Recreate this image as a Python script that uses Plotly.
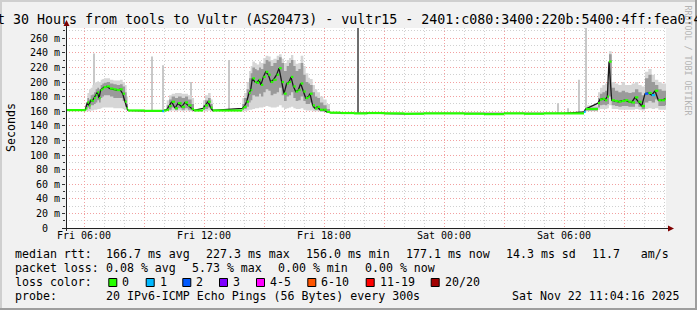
import plotly.graph_objects as go
from datetime import datetime, timedelta

# ---------------- data ----------------
# reading times (Fri = 2025-11-21, Sat = 2025-11-22)
times_fri = [
    "05:06", "06:03",
    "06:05", "06:10", "06:15", "06:20", "06:25", "06:30", "06:35", "06:40", "06:45", "06:50",
    "06:55", "07:00", "07:08", "07:18", "07:28", "07:38", "07:48", "07:56", "08:03", "08:08",
    "08:12", "09:00", "09:55", "10:00",
    "10:08", "10:15", "10:23", "10:33", "10:42", "10:53", "11:03", "11:12", "11:23",
    "11:30",
    "11:57", "12:03", "12:12", "12:20",
    "12:26",
    "13:55", "14:00", "14:08", "14:15", "14:20", "14:25", "14:33", "14:38", "14:45", "14:51",
    "14:58", "15:05", "15:13", "15:20", "15:28", "15:38", "15:45", "15:53", "16:00", "16:08",
    "16:15", "16:21", "16:28", "16:35", "16:43", "16:50", "16:58", "17:05", "17:13", "17:18",
    "17:26", "17:33", "17:40", "17:48", "17:58", "18:08",
    "18:18", "18:50", "19:30", "20:10", "21:00", "22:00", "23:00",
]
times_sat = [
    "00:00", "01:00", "02:00", "03:00", "04:00", "05:00", "06:00",
    "07:00", "07:05",
    "07:42", "07:48", "07:55", "08:03", "08:10", "08:15", "08:23", "08:33", "08:43", "08:53",
    "09:03", "09:13", "09:23", "09:33", "09:43", "09:53", "10:03", "10:13", "10:23", "10:33",
    "10:43", "10:53", "11:03",
]

# median round-trip time, ms
median_ms = [
    161.5, 161.5,
    164, 172, 168, 175, 174, 178, 182, 186, 178, 189,
    191, 193, 194, 191, 190, 189, 190, 184, 173, 164,
    161, 160.5, 160, 161,
    162, 167, 173, 164, 171, 166, 172, 168, 163,
    161,
    164, 168, 173, 165,
    161,
    164, 166, 173, 185, 189, 205, 200, 199, 203, 196,
    207, 214, 210, 200, 203, 210, 219, 200, 184, 198,
    200, 207, 194, 187, 189, 198, 187, 178, 180, 184,
    168, 164, 166, 162, 162, 159,
    158, 157.5, 157, 157.5, 157, 156.5, 157,
    157, 156.5, 156, 157, 156.5, 157, 157,
    159, 163,
    171, 176, 177, 175, 180, 228, 175, 174, 173, 174,
    175, 173, 172, 179, 173, 167, 184, 185, 182, 188,
    175, 175, 177,
]

# lost pings (out of 20) per reading
loss_pings = [
    0, 0,
    0, 0, 0, 0, 0, 0, 0, 0, 0, 0,
    0, 0, 0, 0, 0, 0, 0, 0, 0, 0,
    0, 0, 1, 0,
    0, 0, 0, 0, 0, 0, 0, 0, 0,
    0,
    0, 0, 0, 0,
    0,
    0, 0, 0, 0, 0, 0, 0, 0, 0, 0,
    0, 0, 0, 0, 0, 0, 0, 0, 0, 0,
    0, 0, 0, 0, 0, 0, 0, 0, 0, 0,
    0, 0, 0, 0, 0, 0,
    0, 0, 0, 0, 0, 0, 0,
    0, 0, 0, 0, 0, 0, 0,
    1, 0,
    0, 0, 0, 0, 0, 0, 0, 0, 0, 0,
    0, 0, 0, 0, 0, 0, 2, 0, 1, 0,
    0, 0, 0,
]

# smoke (spread of the 20 pings), ms; None = no visible smoke
smoke_min = [
    None, None,
    160, 160, 160, 161, 161, 162, 162, 163, 163, 164,
    165, 165, 165, 165, 164, 164, 164, 163, 162, 161,
    None, None, None, None,
    160, 160, 161, 160, 161, 160, 161, 160, 160,
    None,
    160, 160, 161, 160,
    None,
    160, 160, 161, 162, 162, 163, 164, 164, 165, 165,
    166, 167, 166, 165, 165, 166, 168, 165, 163, 164,
    165, 166, 164, 163, 163, 164, 162, 161, 161, 161,
    160, 160, 160, 159, 159, 158,
    None, None, None, None, None, None, None,
    None, None, None, None, None, None, None,
    None, 160,
    162, 163, 163, 163, 164, 168, 163, 163, 162, 162,
    162, 162, 162, 163, 162, 161, 163, 164, 163, 164,
    162, 162, 162,
]
smoke_lo = [
    None, None,
    162, 165, 163, 168, 168, 170, 172, 175, 172, 178,
    180, 182, 182, 180, 178, 178, 178, 174, 166, 162,
    None, None, None, None,
    161, 162, 165, 162, 164, 162, 164, 162, 161,
    None,
    162, 163, 165, 162,
    None,
    162, 163, 166, 172, 175, 182, 180, 180, 184, 180,
    186, 190, 188, 182, 184, 186, 192, 182, 174, 180,
    182, 186, 178, 174, 175, 180, 174, 170, 170, 172,
    164, 162, 162, 160, 160, 158,
    None, None, None, None, None, None, None,
    None, None, None, None, None, None, None,
    None, 161,
    165, 168, 169, 168, 170, 180, 168, 167, 166, 167,
    167, 166, 166, 170, 166, 163, 172, 174, 172, 176,
    167, 167, 168,
]
smoke_hi = [
    None, None,
    168, 178, 176, 182, 183, 186, 190, 192, 190, 196,
    198, 199, 200, 198, 197, 196, 197, 194, 186, 170,
    None, None, None, None,
    168, 176, 180, 178, 180, 178, 180, 176, 170,
    None,
    168, 175, 178, 170,
    None,
    170, 178, 190, 205, 212, 220, 218, 216, 220, 218,
    225, 230, 228, 222, 226, 230, 234, 226, 215, 222,
    226, 230, 222, 215, 218, 226, 210, 200, 198, 196,
    186, 180, 178, 172, 168, 163,
    None, None, None, None, None, None, None,
    None, None, None, None, None, None, None,
    None, 165,
    178, 184, 186, 188, 200, 238, 192, 188, 186, 188,
    186, 185, 186, 190, 186, 182, 205, 210, 200, 196,
    190, 188, 188,
]
smoke_max = [
    None, None,
    172, 185, 190, 192, 196, 199, 200, 201, 200, 203,
    204, 205, 205, 203, 202, 202, 203, 200, 196, 180,
    None, None, None, None,
    175, 182, 184, 185, 185, 184, 184, 182, 178,
    None,
    175, 182, 185, 176,
    None,
    178, 185, 200, 215, 222, 228, 226, 224, 228, 226,
    233, 236, 235, 230, 232, 236, 238, 232, 226, 230,
    233, 237, 230, 225, 226, 236, 222, 212, 206, 204,
    196, 190, 186, 180, 176, 170,
    None, None, None, None, None, None, None,
    None, None, None, None, None, None, None,
    None, 168,
    186, 192, 196, 198, 210, 242, 200, 198, 196, 200,
    196, 196, 198, 200, 196, 194, 214, 218, 210, 203,
    200, 198, 198,
]

# isolated outlier pings drawn as thin columns
spike_times = ["2025-11-21 06:30", "2025-11-21 09:24", "2025-11-21 09:57", "2025-11-21 11:21",
               "2025-11-21 13:15", "2025-11-21 19:42", "2025-11-22 05:42", "2025-11-22 06:12",
               "2025-11-22 06:45", "2025-11-22 07:06"]
spike_bottom = [175, 161, 161, 168, 161, 158, 157, 157, 158, 160]
spike_top = [239, 235, 223, 200, 230, 290, 171, 164, 203, 290]
spike_pings = [1, 1, 1, 1, 1, 6, 1, 1, 1, 1]

y_tick_vals = [0, 20, 40, 60, 80, 100, 120, 140, 160, 180, 200, 220, 240, 260]
y_tick_text = ["0\u00a0\u00a0", "20\u00a0m", "40\u00a0m", "60\u00a0m", "80\u00a0m", "100\u00a0m",
               "120\u00a0m", "140\u00a0m", "160\u00a0m", "180\u00a0m", "200\u00a0m", "220\u00a0m",
               "240\u00a0m", "260\u00a0m"]
x_tick_vals = ["2025-11-21 06:00", "2025-11-21 12:00", "2025-11-21 18:00",
               "2025-11-22 00:00", "2025-11-22 06:00"]
x_tick_text = ["Fri 06:00", "Fri 12:00", "Fri 18:00", "Sat 00:00", "Sat 06:00"]

loss_labels = ["0", "1", "2", "3", "4-5", "6-10", "11-19", "20/20"]
loss_colors = ["#26ff00", "#00b8ff", "#0059ff", "#7e00ff", "#ff00ff", "#ff5500", "#ff0000", "#a10000"]

title_text = "Last 30 Hours from tools to Vultr (AS20473) - vultr15 - 2401:c080:3400:220b:5400:4ff:fea0:4"
legend_rows = [
    ["median rtt:", "166.7 ms avg", "227.3 ms max", "156.0 ms min", "177.1 ms now", "14.3 ms sd",
     "11.7\u00a0\u00a0\u00a0am/s"],
    ["packet loss:", "0.08 % avg", "5.73 % max", "0.00 % min", "0.00 % now"],
    ["probe:", "20 IPv6-ICMP Echo Pings (56 Bytes) every 300s", "Sat Nov 22 11:04:16 2025"],
]

# ---------------- build ----------------
W, H = 697, 310
L, R, T, B = 66, 31, 28, 82
PW, PH = W - L - R, H - T - B
X_START = datetime(2025, 11, 21, 5, 6)
X_END = datetime(2025, 11, 22, 11, 6)
FONT = "DejaVu Sans Mono"


def px(x):
    return (x - L) / PW


def py(y):
    return (T + PH - y) / PH


t = [datetime.strptime("2025-11-21 " + s, "%Y-%m-%d %H:%M") for s in times_fri] + \
    [datetime.strptime("2025-11-22 " + s, "%Y-%m-%d %H:%M") for s in times_sat]


def filled(arr):
    return [m if v is None else v for v, m in zip(arr, median_ms)]


s_min, s_lo, s_hi, s_max = map(filled, (smoke_min, smoke_lo, smoke_hi, smoke_max))
tx = t + [X_END]


def ext(a):
    return a + [a[-1]]


fig = go.Figure()

# light smoke
fig.add_trace(go.Scatter(x=tx, y=ext(s_min), mode="lines", line=dict(width=0, shape="hv"),
                         hoverinfo="skip", showlegend=False))
fig.add_trace(go.Scatter(x=tx, y=ext(s_max), mode="lines", line=dict(width=0, shape="hv"),
                         fill="tonexty", fillcolor="#d6d6d6", hoverinfo="skip", showlegend=False))
# denser smoke
fig.add_trace(go.Scatter(x=tx, y=ext(s_lo), mode="lines", line=dict(width=0, shape="hv"),
                         hoverinfo="skip", showlegend=False))
fig.add_trace(go.Scatter(x=tx, y=ext(s_hi), mode="lines", line=dict(width=0, shape="hv"),
                         fill="tonexty", fillcolor="#9a9a9a", hoverinfo="skip", showlegend=False))

# outlier columns
fig.add_trace(go.Bar(x=spike_times, y=[a - b for a, b in zip(spike_top, spike_bottom)], base=spike_bottom,
                     width=270000,
                     marker=dict(color=["#c8c8c8" if n == 1 else "#6e6e6e" for n in spike_pings], line=dict(width=0)),
                     hoverinfo="skip", showlegend=False))

# dark line joining the medians
fig.add_trace(go.Scatter(x=t, y=median_ms, mode="lines", line=dict(color="#1a1a1a", width=1.3),
                         hoverinfo="skip", showlegend=False))

# median bars coloured by loss
for k, col in enumerate(loss_colors):
    xs, ys = [], []
    for i in range(len(t)):
        lo_bucket = {0: 0, 1: 1, 2: 2, 3: 3}.get(loss_pings[i], 4)
        if lo_bucket != k:
            continue
        te = t[i + 1] if i + 1 < len(t) else X_END
        xs += [t[i], te, None]
        ys += [median_ms[i], median_ms[i], None]
    if xs:
        fig.add_trace(go.Scatter(x=xs, y=ys, mode="lines", line=dict(color=col, width=2.2),
                                 hoverinfo="skip", showlegend=False, connectgaps=False))

x_major = [X_START.replace(hour=6, minute=0) + timedelta(hours=3 * i) for i in range(10)]
x_major_text = []
for d in x_major:
    s = d.strftime("%Y-%m-%d %H:%M")
    x_major_text.append(x_tick_text[x_tick_vals.index(s)] if s in x_tick_vals else "")
x_minor = [X_START.replace(hour=6, minute=0) + timedelta(hours=i) for i in range(30)]
x_minor = [d for d in x_minor if d not in x_major and d <= X_END]
y_minor = [v + 10 for v in y_tick_vals]

GRID_DASH = "1px,2px"
fig.update_layout(
    width=W, height=H, margin=dict(l=L, r=R, t=T, b=B),
    paper_bgcolor="#f1f1f1", plot_bgcolor="#ffffff",
    showlegend=False, barmode="overlay",
    font=dict(family=FONT, color="#000000"),
    xaxis=dict(type="date", range=[X_START, X_END], tickmode="array", tickvals=x_major, ticktext=x_major_text,
               showgrid=True, gridcolor="#f2a0a0", gridwidth=1, griddash=GRID_DASH, ticks="",
               tickfont=dict(family=FONT, size=10, color="#000"), showline=False, zeroline=False,
               minor=dict(tickmode="array", tickvals=x_minor, showgrid=True, gridcolor="#d0d0d0",
                          griddash=GRID_DASH, gridwidth=1),
               fixedrange=True),
    yaxis=dict(range=[0, 274], tickmode="array", tickvals=y_tick_vals, ticktext=y_tick_text,
               showgrid=True, gridcolor="#f2a0a0", gridwidth=1, griddash=GRID_DASH,
               ticks="outside", ticklen=3, tickcolor="#333333", tickwidth=1,
               tickfont=dict(family=FONT, size=10, color="#000"), showline=False, zeroline=False,
               minor=dict(tickmode="array", tickvals=y_minor, showgrid=True, gridcolor="#d0d0d0",
                          griddash=GRID_DASH, gridwidth=1, ticks="outside", ticklen=2, tickcolor="#333333"),
               fixedrange=True),
)

shapes = []
# frame shading
shapes.append(dict(type="rect", xref="paper", yref="paper", x0=px(0), x1=px(W), y0=py(0), y1=py(2),
                   fillcolor="#cfcfcf", line=dict(width=0), layer="above"))
shapes.append(dict(type="rect", xref="paper", yref="paper", x0=px(0), x1=px(2), y0=py(0), y1=py(H),
                   fillcolor="#cfcfcf", line=dict(width=0), layer="above"))
shapes.append(dict(type="rect", xref="paper", yref="paper", x0=px(W - 2), x1=px(W), y0=py(0), y1=py(H),
                   fillcolor="#9e9e9e", line=dict(width=0), layer="above"))
shapes.append(dict(type="rect", xref="paper", yref="paper", x0=px(0), x1=px(W), y0=py(H - 2), y1=py(H),
                   fillcolor="#9e9e9e", line=dict(width=0), layer="above"))
# axes
shapes.append(dict(type="line", xref="paper", yref="paper", x0=px(66.5), x1=px(66.5), y0=py(231), y1=py(25),
                   line=dict(color="#222222", width=1), layer="above"))
shapes.append(dict(type="line", xref="paper", yref="paper", x0=px(62), x1=px(669), y0=py(228.5), y1=py(228.5),
                   line=dict(color="#222222", width=1), layer="above"))
# arrows
shapes.append(dict(type="path", xref="paper", yref="paper",
                   path=f"M {px(63.5)},{py(26)} L {px(66.5)},{py(20)} L {px(69.5)},{py(26)} Z",
                   fillcolor="#7f0000", line=dict(width=0), layer="above"))
shapes.append(dict(type="path", xref="paper", yref="paper",
                   path=f"M {px(668)},{py(225.5)} L {px(674)},{py(228.5)} L {px(668)},{py(231.5)} Z",
                   fillcolor="#7f0000", line=dict(width=0), layer="above"))

annotations = []


def text(x, y, s, size=11.6, anchor="left", color="#000", angle=0):
    annotations.append(dict(xref="paper", yref="paper", x=px(x), y=py(y), text=s, showarrow=False,
                            xanchor=anchor, yanchor="middle", borderpad=0, borderwidth=0, textangle=angle,
                            font=dict(family=FONT, size=size, color=color)))


text(-27.5, 19, title_text, size=13.3)
text(687.5, 60, "RRDTOOL / TOBI OETIKER", size=8.3, anchor="center", color="#b4b4b4", angle=90)
text(11, 128, "Seconds", size=11.6, anchor="center", angle=-90)

row_y = [254, 268, 296]
row_x = [
    [16, 107.3, 207.3, 307.3, 407.3, 506.6, 593.3],
    [16, 107.0, 193.0, 279.3, 365.7],
    [16, 107.3, 513.3],
]
for r, items in enumerate(legend_rows):
    for s, x in zip(items, row_x[r]):
        text(x - 1, row_y[r], s)

# loss colour legend
text(15, 282.3, "loss color:")
box_x = [108.3, 145.7, 182.3, 219, 256, 307.3, 365.7, 430.7]
for lab, col, bx in zip(loss_labels, loss_colors, box_x):
    shapes.append(dict(type="rect", xref="paper", yref="paper", x0=px(bx + 0.5), x1=px(bx + 8.5),
                       y0=py(278.5), y1=py(286.5), fillcolor=col, line=dict(color="#000", width=1), layer="above"))
    text(bx + 14, 282.3, lab)

fig.update_layout(shapes=shapes, annotations=annotations)
fig.write_html("out.html")
